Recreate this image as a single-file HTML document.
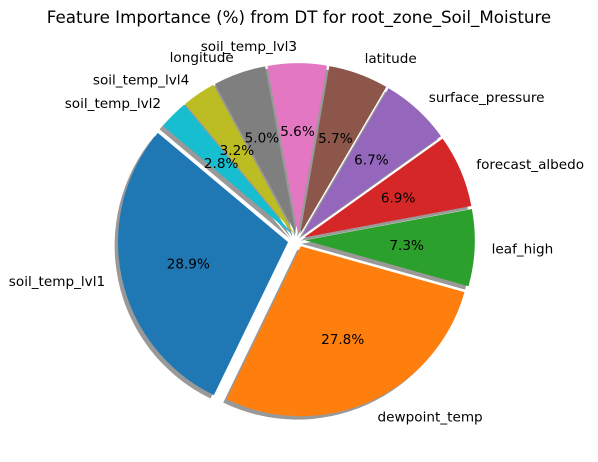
<!DOCTYPE html>
<html><head><meta charset="utf-8"><style>
body{margin:0;background:#fff;}
svg{display:block;font-family:"DejaVu Sans","Liberation Sans",sans-serif;}
</style></head><body>
<svg id="chart" width="598" height="462" viewBox="0 0 598 462">
<rect width="598" height="462" fill="#fff"/>
<text x="299" y="23" text-anchor="middle" font-size="16.7" fill="#000">Feature Importance (%) from DT for root_zone_Soil_Moisture</text>
<g id="shadows"></g>
<g id="wedges"></g>
<g id="labels"></g>
</svg>
<script>
const categories = ["soil_temp_lvl1","dewpoint_temp","leaf_high","forecast_albedo","surface_pressure","latitude","soil_temp_lvl3","longitude","soil_temp_lvl4","soil_temp_lvl2"];
const values = [28.9,27.8,7.3,6.9,6.7,5.7,5.6,5.0,3.2,2.8];
const explode = [0.06,0.04,0.04,0.04,0.04,0.04,0.04,0.04,0.04,0.04];
const colors = ["#1f77b4","#ff7f0e","#2ca02c","#d62728","#9467bd","#8c564b","#e377c2","#7f7f7f","#bcbd22","#17becf"];
const cx=298, cy=240, R=170, startAngle=140;
const NS="http://www.w3.org/2000/svg";
const total=values.reduce((a,b)=>a+b,0);
function pt(x0,y0,r,deg){const a=deg*Math.PI/180;return [x0+r*Math.cos(a), y0-r*Math.sin(a)];}
function wedgePath(x0,y0,a1,a2){
  const p1=pt(x0,y0,R,a1), p2=pt(x0,y0,R,a2);
  const large=(a2-a1)>180?1:0;
  return `M${x0},${y0} L${p1[0]},${p1[1]} A${R},${R} 0 ${large} 0 ${p2[0]},${p2[1]} Z`;
}
const sh=document.getElementById('shadows'), wg=document.getElementById('wedges'), lb=document.getElementById('labels');
let a=startAngle;
values.forEach((v,i)=>{
  const span=v/total*360, a2=a+span, mid=(a+a2)/2;
  const [ox,oy]=pt(cx,cy,explode[i]*R,mid);
  const s=document.createElementNS(NS,'path');
  s.setAttribute('d',wedgePath(ox-3.4,oy+3.4,a,a2));
  s.setAttribute('fill','rgba(0,0,0,0.4)');
  
  
  sh.appendChild(s);
  const w=document.createElementNS(NS,'path');
  w.setAttribute('d',wedgePath(ox,oy,a,a2));
  w.setAttribute('fill',colors[i]);
  
  
  wg.appendChild(w);
  const [px,py]=pt(ox,oy,R*0.6,mid);
  const t=document.createElementNS(NS,'text');
  t.setAttribute('x',px);t.setAttribute('y',py+5);
  t.setAttribute('text-anchor','middle');t.setAttribute('font-size','13.6');
  t.textContent=v.toFixed(1)+'%';
  
  
  lb.appendChild(t);
  const [lx,ly]=pt(ox,oy,R*1.1,mid);
  const l=document.createElementNS(NS,'text');
  l.setAttribute('x',lx);l.setAttribute('y',ly+5);
  l.setAttribute('text-anchor',Math.cos(mid*Math.PI/180)>=0?'start':'end');
  l.setAttribute('font-size','13.6');
  l.textContent=categories[i];
  
  
  lb.appendChild(l);
  a=a2;
});
</script>
</body></html>
